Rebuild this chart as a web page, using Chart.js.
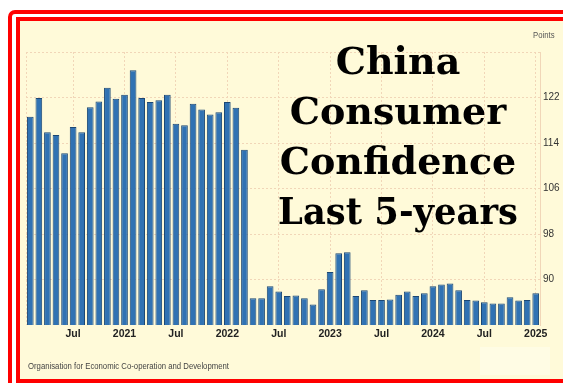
<!DOCTYPE html>
<html>
<head>
<meta charset="utf-8">
<script src="https://cdn.jsdelivr.net/npm/chart.js@4"></script>
<style>
  html, body { margin: 0; padding: 0; background: #fff; }
  #wrap { position: relative; width: 563px; height: 383px; overflow: hidden; background: #fff; }
  .outer { position: absolute; left: 8px; top: 10px; width: 600px; height: 420px;
           border: 4px solid #ff0000; border-top-left-radius: 7px; box-sizing: border-box; }
  .inner { position: absolute; left: 16px; top: 17px; width: 600px; height: 366px;
           border: 4px solid #ff0000; box-sizing: border-box; background: #fffad9; }
  .patch { position: absolute; left: 480px; top: 347px; width: 70px; height: 28px; background: #fffce4; }
  #chart { position: absolute; left: 0; top: 0; }
  .title { position: absolute; left: 250px; top: 36px; width: 296px; text-align: center; white-space: nowrap;
           font-family: 'DejaVu Serif', 'Liberation Serif', serif; font-weight: bold;
           font-size: 38px; line-height: 50px; color: #000; }
  .title span { display: inline-block; }
  .narrow { position: absolute; white-space: nowrap; transform: scaleX(0.86); transform-origin: 0 0;
            font-family: 'Liberation Sans', Arial, sans-serif; }
  .unit { left: 533px; top: 30px; font-size: 9px; color: #555; }
  .source { left: 28px; top: 361px; font-size: 9px; color: #444; }
</style>
</head>
<body>
<div id="wrap">
  <div class="outer"></div>
  <div class="inner"></div>
  <div class="patch"></div>
  <canvas id="chart" width="563" height="383"></canvas>
  <div class="title">China<br>Consumer<br>Confidence<br><span style="transform: scaleX(0.93)">Last 5-years</span></div>
  <div class="narrow unit">Points</div>
  <div class="narrow source">Organisation for Economic Co-operation and Development</div>
</div>
<script>
// mois : fév 2020 -> jan 2025
const months = [
  '2020-02','2020-03','2020-04','2020-05','2020-06','2020-07','2020-08','2020-09','2020-10','2020-11','2020-12',
  '2021-01','2021-02','2021-03','2021-04','2021-05','2021-06','2021-07','2021-08','2021-09','2021-10','2021-11','2021-12',
  '2022-01','2022-02','2022-03','2022-04','2022-05','2022-06','2022-07','2022-08','2022-09','2022-10','2022-11','2022-12',
  '2023-01','2023-02','2023-03','2023-04','2023-05','2023-06','2023-07','2023-08','2023-09','2023-10','2023-11','2023-12',
  '2024-01','2024-02','2024-03','2024-04','2024-05','2024-06','2024-07','2024-08','2024-09','2024-10','2024-11','2024-12',
  '2025-01'
];

const confidence = [
  118.6, 121.9, 115.9, 115.4, 112.2, 116.8, 115.9, 120.3, 121.3, 123.7, 121.8,
  122.5, 126.8, 121.9, 121.2, 121.5, 122.5, 117.4, 117.1, 120.9, 119.9, 119.0, 119.4,
  121.2, 120.2, 112.8, 86.7, 86.7, 88.8, 87.9, 87.1, 87.2, 86.7, 85.6, 88.3,
  91.3, 94.6, 94.8, 87.1, 88.1, 86.4, 86.4, 86.5, 87.3, 87.9, 87.1, 87.6,
  88.8, 89.1, 89.3, 88.1, 86.4, 86.3, 86.0, 85.8, 85.8, 86.9, 86.3, 86.4,
  87.6
];

const yMin = 82, yMax = 130, yStep = 8;
const gridColor = '#f1d6b8';
const tickFont = "'Liberation Sans', Arial, sans-serif";

// Jul ou année, rien pour les autres mois
function monthTick(label) {
  const [y, m] = label.split('-');
  if (m === '07') return 'Jul';
  if (m === '01') return y;
  return null;
}

const leftFrame = {
  id: 'leftFrame',
  beforeDatasetsDraw(chart) {
    const { ctx, chartArea } = chart;
    ctx.save();
    ctx.strokeStyle = gridColor;
    ctx.setLineDash([2, 2]);
    ctx.lineWidth = 1;
    ctx.beginPath();
    ctx.moveTo(chartArea.left + 0.5, chartArea.top);
    ctx.lineTo(chartArea.left + 0.5, chartArea.bottom);
    ctx.stroke();
    ctx.restore();
  }
};

new Chart(document.getElementById('chart').getContext('2d'), {
  type: 'bar',
  data: {
    labels: months,
    datasets: [{
      data: confidence,
      backgroundColor: '#3072b3',
      borderColor: '#1b4774',
      borderWidth: 1,
      barPercentage: 0.78,
      categoryPercentage: 1.0
    }]
  },
  options: {
    responsive: false,
    animation: false,
    layout: { padding: { left: 26, top: 52, right: 0, bottom: 38 } },
    plugins: { legend: { display: false }, tooltip: { enabled: false } },
    scales: {
      x: {
        afterFit(scale) { scale.height = 20; },
        grid: { offset: false, color: gridColor, drawTicks: false },
        border: { display: false, dash: [2, 2] },
        ticks: {
          autoSkip: false, maxRotation: 0, padding: 3,
          color: '#222', font: { family: tickFont, size: 10.5, weight: 'bold' },
          callback(v) { return monthTick(this.getLabelForValue(v)); }
        }
      },
      y: {
        position: 'right',
        min: yMin, max: yMax,
        afterFit(scale) { scale.width = 23; },
        grid: { color: gridColor, drawTicks: false },
        border: { display: true, color: gridColor, dash: [2, 2] },
        ticks: {
          stepSize: yStep, padding: 3,
          color: '#333', font: { family: tickFont, size: 10 },
          callback(v) { return v === yMin ? null : (v === yMax ? '' : v); }
        }
      }
    }
  },
  plugins: [leftFrame]
});
</script>
</body>
</html>
